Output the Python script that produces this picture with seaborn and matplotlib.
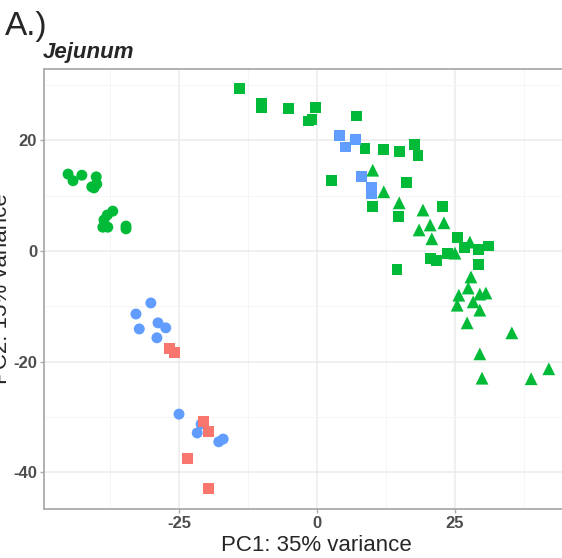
import pandas as pd
import matplotlib
matplotlib.use("Agg")
import matplotlib.pyplot as plt
import seaborn as sns
from matplotlib.ticker import MultipleLocator

# PCA scores, one pair of lists per colour/shape group
green_circle_pc1 = [-45.1, -44.2, -42.6, -40.0, -39.9, -40.4, -40.8, -37.0, -38.0, -38.6, -38.8, -37.9, -34.6, -34.6]
green_circle_pc2 = [13.9, 12.7, 13.7, 13.4, 12.1, 11.4, 11.6, 7.2, 6.5, 5.6, 4.3, 4.3, 4.5, 4.0]

blue_circle_pc1 = [-30.1, -32.8, -32.2, -28.8, -27.4, -29.0, -25.0, -21.0, -21.7, -17.8, -17.0]
blue_circle_pc2 = [-9.4, -11.4, -14.1, -13.0, -13.9, -15.7, -29.5, -31.3, -32.9, -34.5, -34.0]

red_square_pc1 = [-26.8, -25.9, -20.5, -19.7, -23.5, -19.7]
red_square_pc2 = [-17.7, -18.3, -30.9, -32.7, -37.6, -43.0]

green_square_pc1 = [-14.1, -10.1, -10.0, -5.1, -0.2, -1.6, -0.9, 7.1, 8.7, 12.0, 14.9, 17.6, 18.3, 2.7,
                    16.3, 10.0, 14.7, 22.8, 25.4, 26.8, 29.3, 31.0, 20.5, 21.7, 23.7, 29.3, 14.5]
green_square_pc2 = [29.3, 26.6, 25.9, 25.7, 26.0, 23.5, 23.7, 24.4, 18.6, 18.3, 17.9, 19.3, 17.2, 12.8,
                    12.3, 8.1, 6.3, 8.0, 2.4, 0.7, 0.2, 0.9, -1.4, -1.8, -0.5, -2.4, -3.3]

blue_square_pc1 = [4.0, 5.1, 6.9, 8.0, 9.8, 9.8]
blue_square_pc2 = [20.8, 18.8, 20.1, 13.4, 11.4, 10.3]

green_triangle_pc1 = [10.1, 12.1, 14.9, 19.2, 20.5, 18.5, 23.0, 20.8, 25.0, 27.7, 27.9, 27.4, 25.7, 25.4,
                      28.3, 29.5, 30.6, 29.5, 27.2, 35.3, 29.5, 29.9, 38.8, 42.0]
green_triangle_pc2 = [14.6, 10.7, 8.7, 7.4, 4.7, 3.8, 5.1, 2.2, -0.4, 1.6, -4.7, -6.7, -8.0, -9.8,
                      -9.2, -7.8, -7.6, -10.7, -13.0, -14.8, -18.6, -23.0, -23.1, -21.3]

groups = [
    (green_circle_pc1, green_circle_pc2, "Group 2", "Type 1"),
    (blue_circle_pc1, blue_circle_pc2, "Group 3", "Type 1"),
    (red_square_pc1, red_square_pc2, "Group 1", "Type 3"),
    (green_square_pc1, green_square_pc2, "Group 2", "Type 3"),
    (blue_square_pc1, blue_square_pc2, "Group 3", "Type 3"),
    (green_triangle_pc1, green_triangle_pc2, "Group 2", "Type 2"),
]

frames = []
for pc1, pc2, grp, typ in groups:
    frames.append(pd.DataFrame({"PC1": pc1, "PC2": pc2, "Group": grp, "Type": typ}))
df = pd.concat(frames, ignore_index=True)

palette = {"Group 1": "#F8766D", "Group 2": "#00BA38", "Group 3": "#619CFF"}
markers = {"Type 1": "o", "Type 2": "^", "Type 3": "s"}
marker_sizes = {"Type 1": 62, "Type 2": 85, "Type 3": 62}

sns.set_style("white")
plt.rcParams["font.family"] = ["Liberation Sans", "DejaVu Sans"]
plt.rcParams["axes.unicode_minus"] = False

W, H = 562, 558
fig = plt.figure(figsize=(W / 100, H / 100), dpi=100)

# panel runs past the right edge of the picture, as in the reference
left_px, right_px, top_px, bottom_px = 44, 576.4, 69, 509
ax = fig.add_axes([left_px / W, (H - bottom_px) / H, (right_px - left_px) / W, (bottom_px - top_px) / H])

sns.scatterplot(data=df, x="PC1", y="PC2", hue="Group", style="Type", size="Type",
                palette=palette, markers=markers, sizes=marker_sizes,
                linewidth=0, alpha=1, legend=False, ax=ax, zorder=3)

ax.set_xlim(-49.46, 47.0)
ax.set_ylim(-46.65, 32.9)
ax.xaxis.set_major_locator(MultipleLocator(25))
ax.xaxis.set_minor_locator(MultipleLocator(12.5))
ax.yaxis.set_major_locator(MultipleLocator(20))
ax.yaxis.set_minor_locator(MultipleLocator(10))
ax.grid(which="major", color="#EBEBEB", linewidth=1.1, zorder=0)
ax.grid(which="minor", color="#F5F5F5", linewidth=0.7, zorder=0)
ax.set_axisbelow(True)

for sp in ax.spines.values():
    sp.set_color("#ABABAB")
    sp.set_linewidth(1.3)

ax.tick_params(which="major", length=3, width=1, color="#ABABAB", labelsize=12,
               labelcolor="#4D4D4D", pad=2, bottom=True, left=True)
ax.tick_params(which="minor", length=0)
for lab in ax.get_xticklabels() + ax.get_yticklabels():
    lab.set_fontweight("bold")

ax.set_xlabel("")
ax.set_ylabel("")
fig.text(316 / W, (H - 551) / H, "PC1: 35% variance", ha="center", va="baseline", fontsize=16)
fig.text(12 / W, (H - 289) / H, "PC2: 15% variance", ha="right", va="center",
         rotation=90, fontsize=16)
fig.text(43 / W, (H - 58) / H, "Jejunum", ha="left", va="baseline", fontsize=16,
         fontweight="bold", fontstyle="italic")
fig.text(5 / W, (H - 35) / H, "A.)", ha="left", va="baseline", fontsize=24)

fig.savefig("out.png", dpi=100)
